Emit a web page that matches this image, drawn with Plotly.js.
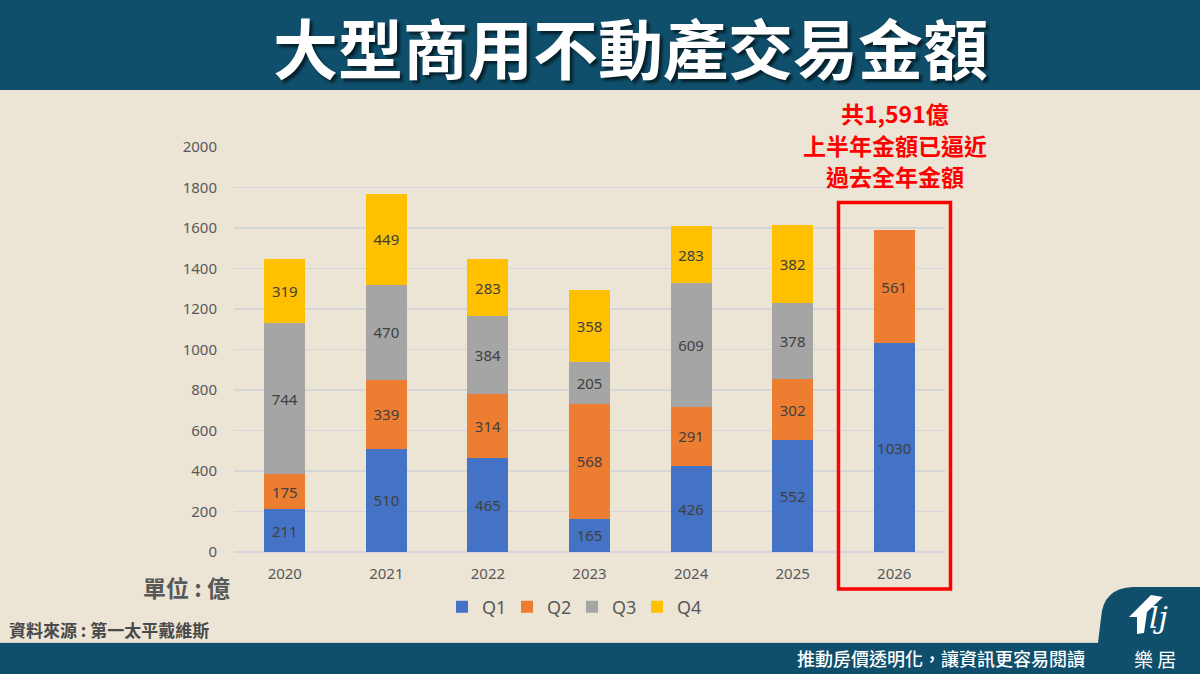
<!DOCTYPE html>
<html>
<head>
<meta charset="utf-8">
<script src="https://cdn.plot.ly/plotly-3.0.1.min.js"></script>
<style>
html,body{margin:0;padding:0;background:#ece5d6;}
#chart{width:1200px;height:674px;}
</style>
</head>
<body>
<div id="chart"></div>
<script>
// ---- data ----
const years = ['2020','2021','2022','2023','2024','2025','2026'];
const q1 = [211, 510, 465, 165, 426, 552, 1030];
const q2 = [175, 339, 314, 568, 291, 302, 561];
const q3 = [744, 470, 384, 205, 609, 378, null];
const q4 = [319, 449, 283, 358, 283, 382, null];
const seriesNames = ['Q1','Q2','Q3','Q4'];
const yTicks = [0,200,400,600,800,1000,1200,1400,1600,1800,2000];

// ---- layout helpers (pixel -> paper) ----
const L = 234, R = 945, T = 147, B = 552, W = 1200, H = 674;
const fx = px => (px - L) / (R - L);
const fy = py => (B - py) / (B - T);

const colors = ['#4472c4','#ed7d31','#a5a5a5','#ffc000'];
const FONT = '"Noto Sans CJK TC", "Noto Sans", sans-serif';
const series = [q1,q2,q3,q4];

const traces = series.map((vals,i)=>({
  type:'bar',
  name: seriesNames[i],
  x: years,
  y: vals,
  marker:{color:colors[i], line:{width:0}},
  text: vals.map(v => v===null ? '' : String(v)),
  textposition:'inside',
  insidetextanchor:'middle',
  textangle:0,
  constraintext:'none',
  textfont:{color:'#404040', size:15, family:'"Noto Sans", sans-serif'},
  hoverinfo:'skip'
}));

const teal = '#0f4f6b';
const tabPath = [
  'M', fx(1098), fy(643),
  'L', fx(1101), fy(618),
  'Q', fx(1103), fy(588), fx(1133), fy(587),
  'L', fx(1200), fy(587),
  'L', fx(1200), fy(643), 'Z'
].join(' ');

const housePath = [
  'M', fx(1129), fy(617),
  'L', fx(1151), fy(595),
  'L', fx(1163), fy(597),
  'L', fx(1147), fy(612),
  'L', fx(1144), fy(633),
  'L', fx(1137), fy(634),
  'L', fx(1137), fy(617), 'Z'
].join(' ');

const redLines = ['共1,591億','上半年金額已逼近','過去全年金額'];
const redY = [113, 144.5, 176];

const layout = {
  width: W, height: H,
  margin:{l:L, r:W-R, t:T, b:H-B, pad:0},
  paper_bgcolor:'#ece5d6',
  plot_bgcolor:'rgba(0,0,0,0)',
  barmode:'stack',
  bargap:0.597,
  font:{family:FONT, color:'#595959'},
  showlegend:true,
  legend:{
    orientation:'h', x:fx(572), xanchor:'center', y:fy(607), yanchor:'middle',
    font:{size:18, color:'#595959', family:'"Noto Sans", sans-serif'},
    bgcolor:'rgba(0,0,0,0)', traceorder:'normal',
    entrywidth:20, entrywidthmode:'pixels'
  },
  xaxis:{
    type:'category', showgrid:false, showline:false, zeroline:false, ticks:'',
    tickfont:{size:15, color:'#595959', family:'"Noto Sans", sans-serif'},
    ticklabelstandoff:11, fixedrange:true
  },
  yaxis:{
    range:[0,2000], tickvals:yTicks, ticktext:yTicks.map(String),
    showgrid:true, gridcolor:'#d6d6d8', gridwidth:1.3,
    zeroline:true, zerolinecolor:'#d6d6d8', zerolinewidth:1.3,
    showline:false, ticks:'',
    tickfont:{size:15, color:'#595959', family:'"Noto Sans", sans-serif'},
    ticklabelstandoff:16, fixedrange:true
  },
  shapes:[
    {type:'rect', xref:'paper', yref:'paper', x0:fx(0), x1:fx(W), y0:fy(0), y1:fy(90),
     fillcolor:teal, line:{width:0}, layer:'below'},
    {type:'rect', xref:'paper', yref:'paper', x0:fx(0), x1:fx(W), y0:fy(642), y1:fy(644),
     fillcolor:'#cfcfca', line:{width:0}, layer:'below'},
    {type:'rect', xref:'paper', yref:'paper', x0:fx(0), x1:fx(W), y0:fy(643), y1:fy(H),
     fillcolor:teal, line:{width:0}, layer:'below'},
    {type:'path', xref:'paper', yref:'paper', path:tabPath,
     fillcolor:teal, line:{width:0}, layer:'below'},
    {type:'path', xref:'paper', yref:'paper', path:housePath,
     fillcolor:'#ffffff', line:{width:0}, layer:'above'},
    {type:'rect', xref:'paper', yref:'paper', x0:fx(838.5), x1:fx(950.5), y0:fy(589), y1:fy(202.5),
     fillcolor:'rgba(0,0,0,0)', line:{color:'#ff0000', width:3.5}, layer:'above'}
  ],
  annotations:[
    {xref:'paper', yref:'paper', x:fx(630), y:fy(46), xanchor:'center', yanchor:'middle',
     showarrow:false, borderpad:0,
     text:'<b>大型商用不動產交易金額</b>',
     font:{size:65, color:'#ffffff', family:FONT, shadow:'3px 3px 3px rgba(0,0,0,0.6)'}},
    ...redLines.map((t,i)=>({
      xref:'paper', yref:'paper', x:fx(895), y:fy(redY[i]), xanchor:'center', yanchor:'middle',
      showarrow:false, borderpad:0, text:'<b>'+t+'</b>',
      font:{size:23, color:'#ff0000', family:FONT}
    })),
    {xref:'paper', yref:'paper', x:fx(232), y:fy(587), xanchor:'right', yanchor:'middle',
     showarrow:false, text:'<b>單位 : 億</b>', font:{size:23, color:'#595959', family:FONT}},
    {xref:'paper', yref:'paper', x:fx(7), y:fy(629), xanchor:'left', yanchor:'middle',
     showarrow:false, text:'<b>資料來源 : 第一太平戴維斯</b>', font:{size:17, color:'#4a4a4a', family:FONT}},
    {xref:'paper', yref:'paper', x:fx(1087), y:fy(658), xanchor:'right', yanchor:'middle',
     showarrow:false, text:'推動房價透明化，讓資訊更容易閱讀',
     font:{size:18, color:'#ffffff', family:FONT, weight:500}},
    {xref:'paper', yref:'paper', x:fx(1155), y:fy(658), xanchor:'center', yanchor:'middle',
     showarrow:false, borderpad:0, text:'樂 居', font:{size:19, color:'#ffffff', family:FONT}},
    {xref:'paper', yref:'paper', x:fx(1158), y:fy(617), xanchor:'center', yanchor:'middle',
     showarrow:false, text:'<i>lj</i>', font:{size:30, color:'#ffffff', family:'"DejaVu Serif", serif'}}
  ]
};

Plotly.newPlot('chart', traces, layout, {displayModeBar:false, staticPlot:true});
</script>
</body>
</html>
